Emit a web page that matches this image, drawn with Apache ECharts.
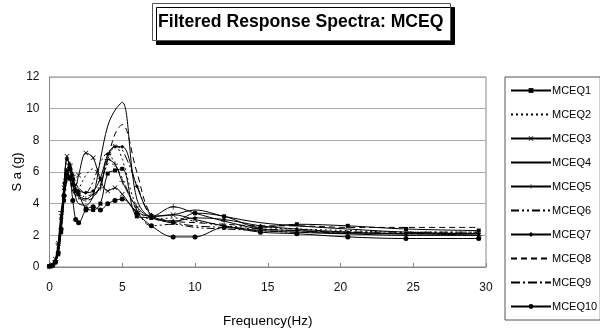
<!DOCTYPE html>
<html>
<head>
<meta charset="utf-8">
<script src="https://cdn.jsdelivr.net/npm/echarts@6/dist/echarts.min.js"></script>
<style>
  html, body { margin: 0; padding: 0; background: #fff; }
  #chart_form { width: 600px; height: 329px; }
</style>
</head>
<body>
<div id="chart_form"></div>
<script>
// frequency points (Hz)
var freq = [0, 0.2, 0.4, 0.6, 0.8, 1.0, 1.2, 1.4, 1.6, 1.8, 2.0, 2.5, 3.0, 3.5, 4.0, 4.5, 5.0, 6.0, 7.0, 8.5, 10, 12, 14.5, 17, 20.5, 24.5, 29.5];

var mceq1  = [0.05, 0.1, 0.3, 0.8, 2.2, 4.2, 6.0, 6.2, 5.2, 4.8, 4.6, 3.7, 3.6, 4.0, 5.9, 6.1, 6.2, 3.2, 3.1, 2.8, 3.4, 3.2, 2.5, 2.7, 2.6, 2.4, 2.3];
var mceq2  = [0.05, 0.1, 0.4, 1.2, 3.0, 5.5, 6.6, 6.0, 5.0, 4.6, 4.9, 5.8, 6.2, 5.8, 6.5, 7.8, 6.8, 3.8, 3.0, 3.1, 2.9, 2.6, 2.5, 2.4, 2.3, 2.2, 2.2];
var mceq3  = [0.05, 0.15, 0.5, 1.5, 3.2, 5.0, 7.0, 6.2, 5.4, 5.2, 5.8, 7.2, 6.9, 5.5, 4.8, 5.0, 4.6, 3.5, 3.2, 3.3, 3.0, 2.6, 2.3, 2.2, 2.1, 2.1, 2.0];
var mceq4  = [0.05, 0.1, 0.3, 1.0, 2.5, 4.5, 5.8, 6.0, 5.2, 4.4, 4.0, 3.9, 4.5, 6.8, 8.9, 9.9, 10.4, 4.3, 3.2, 3.3, 3.6, 3.2, 2.8, 2.6, 2.4, 2.2, 2.1];
var mceq5  = [0.05, 0.1, 0.4, 1.5, 3.5, 4.5, 5.5, 6.5, 5.8, 5.0, 4.5, 4.3, 4.6, 5.0, 6.8, 6.5, 5.4, 3.8, 3.2, 3.8, 3.4, 2.9, 2.4, 2.3, 2.1, 2.0, 2.0];
var mceq6  = [0.05, 0.1, 0.3, 1.1, 2.8, 4.8, 6.3, 5.5, 4.8, 4.5, 4.3, 4.6, 5.4, 6.6, 7.2, 6.5, 5.6, 3.6, 2.6, 2.7, 2.5, 2.4, 2.3, 2.2, 2.2, 2.1, 2.1];
var mceq7  = [0.05, 0.1, 0.3, 1.2, 3.0, 5.3, 6.8, 6.4, 5.5, 4.9, 4.8, 4.7, 4.8, 5.6, 7.1, 7.6, 7.6, 5.1, 3.3, 2.9, 3.1, 3.0, 2.6, 2.4, 2.2, 2.1, 2.1];
var mceq8  = [0.05, 0.1, 0.3, 1.0, 2.6, 4.6, 6.2, 6.4, 5.6, 4.8, 4.4, 4.2, 4.4, 5.2, 6.8, 8.4, 9.0, 6.0, 3.3, 2.9, 2.8, 2.7, 2.6, 2.6, 2.5, 2.5, 2.5];
var mceq9  = [0.05, 0.1, 0.3, 0.9, 2.4, 4.3, 5.8, 6.6, 6.0, 5.3, 5.0, 4.6, 4.5, 5.2, 6.8, 7.6, 7.4, 5.2, 3.2, 2.8, 2.6, 2.5, 2.4, 2.3, 2.2, 2.2, 2.2];
var mceq10 = [0.05, 0.1, 0.3, 0.9, 2.4, 4.5, 5.8, 5.6, 4.2, 3.0, 2.8, 3.6, 3.8, 3.6, 4.0, 4.2, 4.3, 3.4, 2.6, 1.9, 1.9, 2.5, 2.2, 2.1, 1.9, 1.8, 1.8];

var seriesNames = ['MCEQ1', 'MCEQ2', 'MCEQ3', 'MCEQ4', 'MCEQ5', 'MCEQ6', 'MCEQ7', 'MCEQ8', 'MCEQ9', 'MCEQ10'];
var seriesData = [mceq1, mceq2, mceq3, mceq4, mceq5, mceq6, mceq7, mceq8, mceq9, mceq10];

var xTicks = [0, 5, 10, 15, 20, 25, 30];
var yTicks = [0, 2, 4, 6, 8, 10, 12];

// marker / line style per series
var styles = [
    {symbol: 'rect', size: 4, type: 'solid'},
    {symbol: 'none', size: 0, type: [2, 3]},
    {symbol: 'path://M0,1L1,0L5,4L9,0L10,1L6,5L10,9L9,10L5,6L1,10L0,9L4,5Z', size: 5, type: 'solid'},
    {symbol: 'none', size: 0, type: 'solid'},
    {symbol: 'path://M0,4.5H4.5V0H5.5V4.5H10V5.5H5.5V10H4.5V5.5H0Z', size: 6, type: 'solid'},
    {symbol: 'none', size: 0, type: [8, 3, 2, 3, 2, 3]},
    {symbol: 'diamond', size: 4, type: 'solid'},
    {symbol: 'none', size: 0, type: [6, 4]},
    {symbol: 'none', size: 0, type: [9, 3, 2, 3]},
    {symbol: 'circle', size: 5, type: 'solid'}
];

function buildSeries() {
    var list = [];
    for (var i = 0; i < seriesNames.length; i++) {
        var pts = [];
        for (var k = 0; k < freq.length; k++) {
            pts.push([freq[k], seriesData[i][k]]);
        }
        var st = styles[i];
        list.push({
            name: seriesNames[i],
            type: 'line',
            data: pts,
            smooth: 0.35,
            symbol: st.symbol,
            symbolSize: st.size,
            showSymbol: st.symbol !== 'none',
            itemStyle: {color: '#000', borderWidth: 0},
            lineStyle: {color: '#000', width: 1, type: st.type},
            emphasis: {disabled: true},
            z: 3
        });
    }
    return list;
}

// legend entries: hide the marker for series drawn without one
function buildLegend() {
    var items = [];
    for (var i = 0; i < seriesNames.length; i++) {
        var it = {name: seriesNames[i]};
        if (styles[i].symbol === 'none') {
            it.itemStyle = {color: 'rgba(0,0,0,0)', borderWidth: 0};
        }
        items.push(it);
    }
    return items;
}

var myChart = echarts.init(document.getElementById('chart_form'));
var option = {
    animation: false,
    backgroundColor: '#fff',
    title: {
        text: 'Filtered Response Spectra: MCEQ',
        left: 152,
        top: 3,
        padding: [10, 7, 10, 6],
        borderColor: '#555',
        borderWidth: 1,
        backgroundColor: '#fff',
        shadowColor: '#000',
        shadowBlur: 0,
        shadowOffsetX: 4,
        shadowOffsetY: 4,
        textStyle: {
            fontFamily: 'Liberation Sans, Arial',
            fontSize: 17.6,
            fontWeight: 'bold',
            color: '#000'
        }
    },
    legend: {
        orient: 'vertical',
        left: 505,
        top: 77,
        padding: [7, 3, 7, 5],
        itemWidth: 40,
        itemHeight: 6,
        itemGap: 11,
        borderColor: '#555',
        borderWidth: 1,
        data: buildLegend(),
        textStyle: {
            fontFamily: 'Liberation Sans, Arial',
            fontSize: 11,
            lineHeight: 13,
            color: '#000',
            padding: [0, 0, 0, -4]
        }
    },
    grid: {
        left: 49.5,
        right: 114,
        top: 77,
        bottom: 62,
        outerBoundsMode: 'none',
        show: true,
        borderColor: '#888',
        borderWidth: 1
    },
    xAxis: {
        type: 'value',
        min: xTicks[0],
        max: xTicks[xTicks.length - 1],
        interval: 5,
        name: 'Frequency(Hz)',
        nameLocation: 'middle',
        nameGap: 47,
        nameTextStyle: {fontFamily: 'Liberation Sans, Arial', fontSize: 13.5, color: '#000'},
        axisLine: {lineStyle: {color: '#888'}},
        axisTick: {inside: true, length: 4, lineStyle: {color: '#888'}},
        axisLabel: {fontFamily: 'Liberation Sans, Arial', fontSize: 12, color: '#111', margin: 15},
        splitLine: {show: false}
    },
    yAxis: {
        type: 'value',
        min: yTicks[0],
        max: yTicks[yTicks.length - 1],
        interval: 2,
        name: 'S a (g)',
        nameLocation: 'middle',
        nameGap: 26,
        nameMoveOverlap: false,
        nameTextStyle: {fontFamily: 'Liberation Sans, Arial', fontSize: 13, color: '#000'},
        axisLine: {show: true, lineStyle: {color: '#888'}},
        axisTick: {show: false},
        axisLabel: {fontFamily: 'Liberation Sans, Arial', fontSize: 12, color: '#111', margin: 10},
        splitLine: {lineStyle: {color: '#aaa', width: 1}}
    },
    series: buildSeries()
};
myChart.setOption(option);
</script>
</body>
</html>
